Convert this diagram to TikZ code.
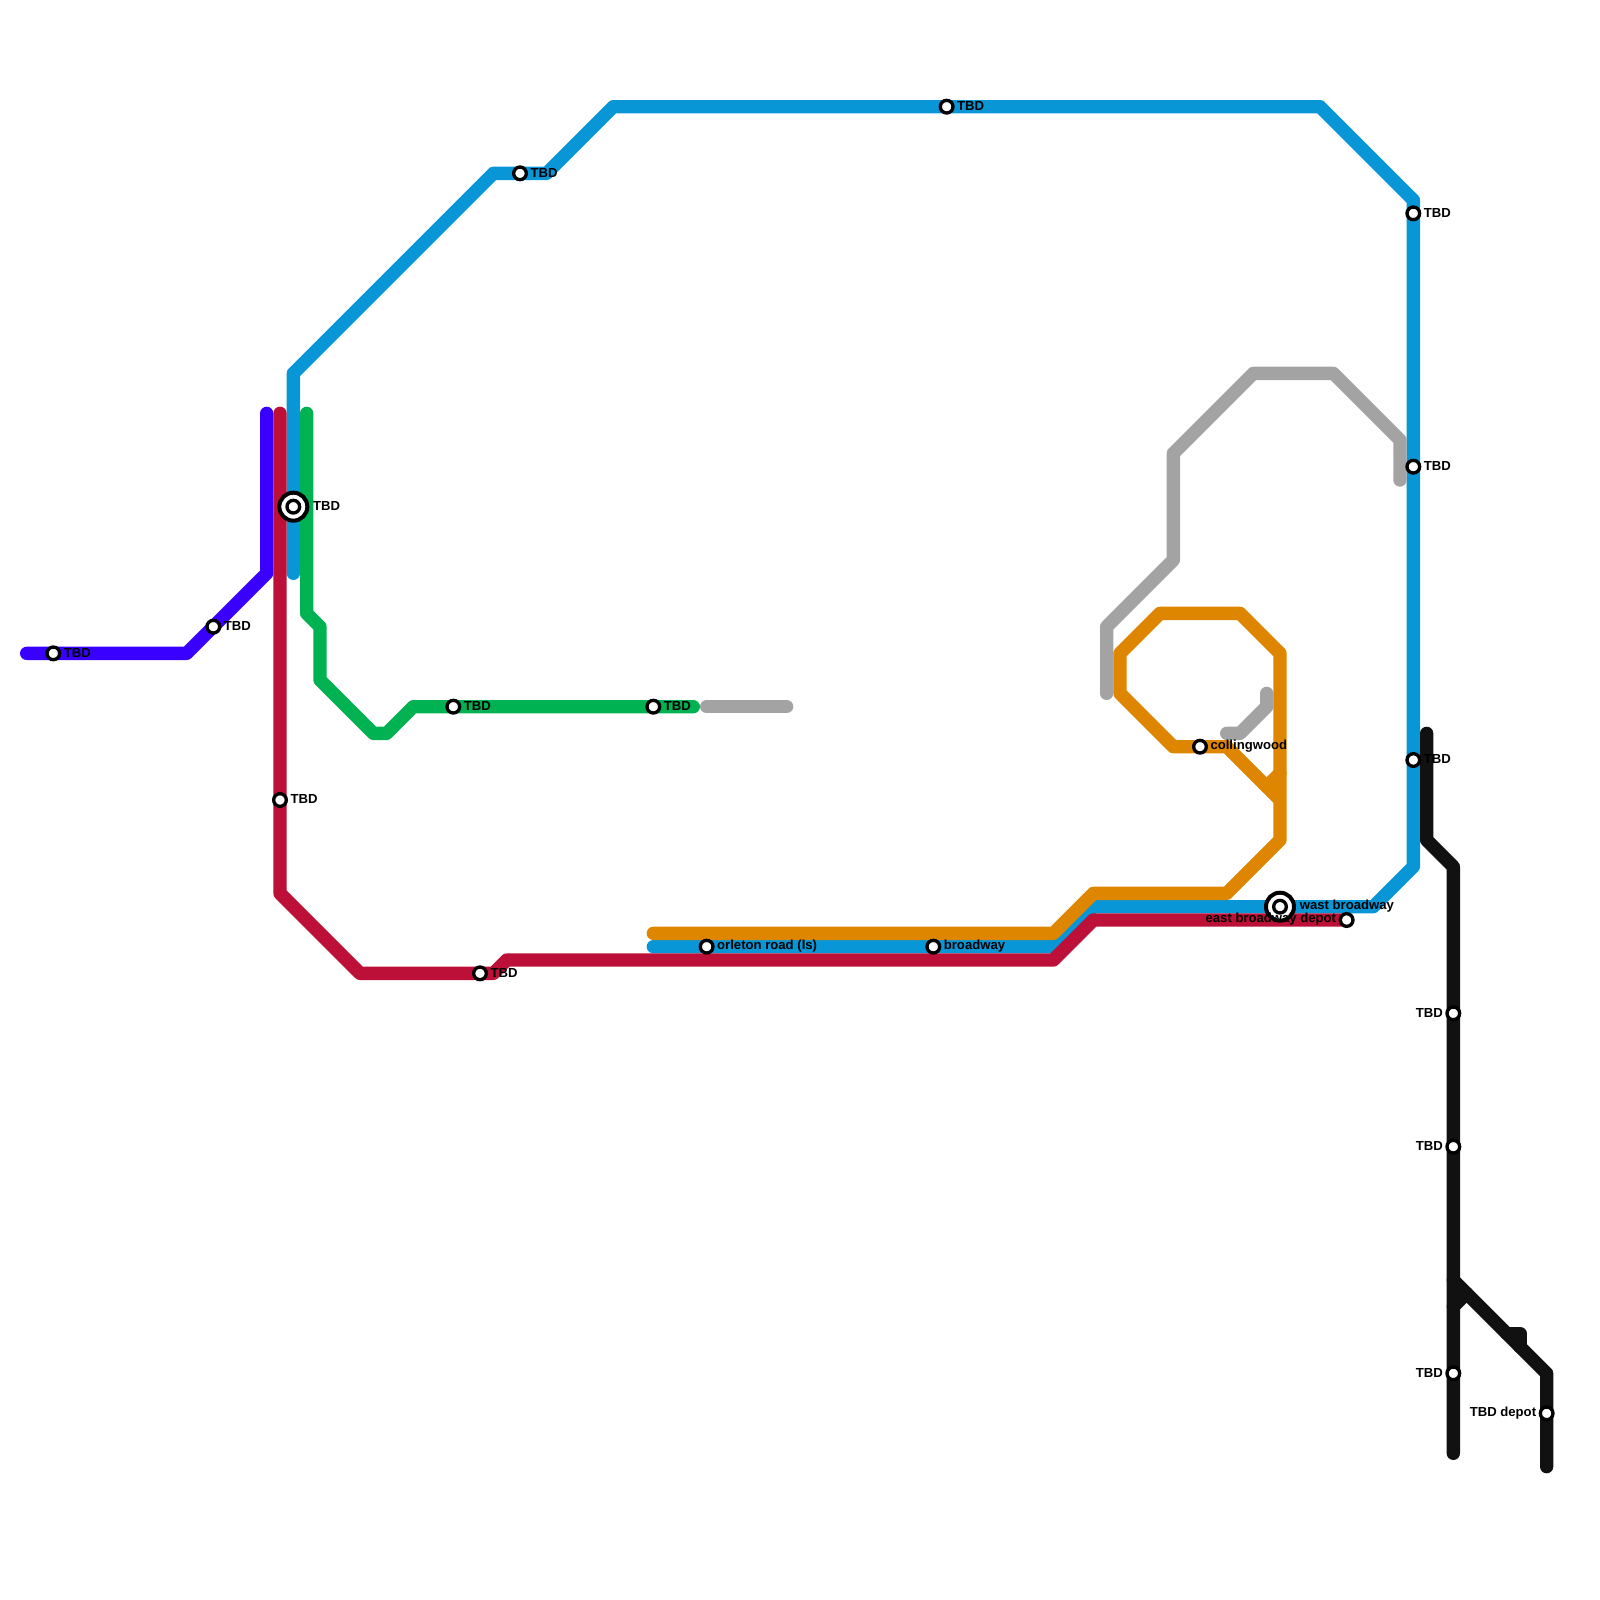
\documentclass[tikz,border=0pt]{standalone}
\usepackage{fontspec}
\setmainfont{Liberation Sans}
\usetikzlibrary{positioning}
\definecolor{MapPurple}{HTML}{3A00FF}
\definecolor{MapRed}{HTML}{BD1038}
\definecolor{MapBlue}{HTML}{0896D7}
\definecolor{MapGreen}{HTML}{00B251}
\definecolor{MapGray}{HTML}{A3A3A3}
\definecolor{MapOrange}{HTML}{DF8600}
\definecolor{MapBlack}{HTML}{111111}
\tikzset{
  route/.style={line width=1mm,line cap=round,line join=round},
  stationdot/.style={circle,draw=black,fill=white,line width=0.25mm,minimum size=0.95mm,inner sep=0pt},
  hubring/.style={circle,draw=black,fill=white,line width=0.3mm,minimum size=2.1mm,inner sep=0pt},
  stationname/.style={inner sep=0pt,yshift=0.05mm,font=\bfseries\fontsize{2.8}{3}\selectfont}
}
\begin{document}
\begin{tikzpicture}[x=1mm,y=-1mm]
\useasboundingbox (0,0) rectangle (120,120);
\draw[route,MapPurple] (2,49)--(14,49)--(20,43)--(20,31);
\draw[route,MapBlue] (22,43)--(22,28)--(37,13)--(41,13)--(46,8)--(99,8)--(106,15)--(106,65)--(103,68)--(82,68)--(79,71)--(49,71);
\draw[route,MapRed] (21,31)--(21,67)--(27,73)--(37,73)--(38,72)--(79,72)--(82,69)--(101,69);
\draw[route,MapGreen] (23,31)--(23,46)--(24,47)--(24,51)--(28,55)--(29,55)--(31,53)--(52,53);
\draw[route,MapGray] (53,53)--(59,53);
\draw[route,MapGray] (83,52)--(83,47)--(88,42)--(88,34)--(94,28)--(100,28)--(105,33)--(105,36);
\draw[route,MapGray] (92,55)--(93,55)--(95,53)--(95,52);
\draw[route,MapOrange] (49,70)--(79,70)--(82,67)--(92,67)--(96,63)--(96,49)--(93,46)--(87,46)--(84,49)--(84,52)--(88,56)--(92,56)--(96,60);
\draw[route,MapOrange] (95,59)--(96,58);
\draw[route,MapBlack] (107,55)--(107,63)--(109,65)--(109,109);
\draw[route,MapBlack] (109,96)--(116,103)--(116,110);
\draw[route,MapBlack] (109,98)--(110,97);
\draw[route,MapBlack] (113,100)--(114,100)--(114,101);
\node[stationdot] (purpleA) at (4,49) {};
\node[stationdot] (purpleB) at (16,47) {};
\node[stationdot] (redA) at (21,60) {};
\node[stationdot] (redB) at (36,73) {};
\node[stationdot] (depotE) at (101,69) {};
\node[stationdot] (blueA) at (39,13) {};
\node[stationdot] (blueB) at (71,8) {};
\node[stationdot] (blueC) at (106,16) {};
\node[stationdot] (blueD) at (106,35) {};
\node[stationdot] (blueE) at (106,57) {};
\node[stationdot] (orleton) at (53,71) {};
\node[stationdot] (broadway) at (70,71) {};
\node[stationdot] (greenA) at (34,53) {};
\node[stationdot] (greenB) at (49,53) {};
\node[stationdot] (colling) at (90,56) {};
\node[stationdot] (blackA) at (109,76) {};
\node[stationdot] (blackB) at (109,86) {};
\node[stationdot] (blackC) at (109,103) {};
\node[stationdot] (depotT) at (116,106) {};
\node[hubring] (hubWestO) at (22,38) {};
\node[stationdot] (hubWest) at (22,38) {};
\node[hubring] (hubWastO) at (96,68) {};
\node[stationdot] (hubWast) at (96,68) {};
\node[stationname,right=0.12mm of purpleA] (lpurpleA) {TBD};
\node[stationname,right=0.12mm of purpleB] (lpurpleB) {TBD};
\node[stationname,right=0.12mm of redA] (lredA) {TBD};
\node[stationname,right=0.12mm of redB] (lredB) {TBD};
\node[stationname,left=0.12mm of depotE] (ldepotE) {east broadway depot};
\node[stationname,right=0.12mm of blueA] (lblueA) {TBD};
\node[stationname,right=0.12mm of blueB] (lblueB) {TBD};
\node[stationname,right=0.12mm of blueC] (lblueC) {TBD};
\node[stationname,right=0.12mm of blueD] (lblueD) {TBD};
\node[stationname,right=0.12mm of blueE] (lblueE) {TBD};
\node[stationname,right=0.12mm of orleton] (lorleton) {orleton road (ls)};
\node[stationname,right=0.12mm of broadway] (lbroadway) {broadway};
\node[stationname,right=0.12mm of greenA] (lgreenA) {TBD};
\node[stationname,right=0.12mm of greenB] (lgreenB) {TBD};
\node[stationname,right=0.12mm of colling] (lcolling) {collingwood};
\node[stationname,left=0.12mm of blackA] (lblackA) {TBD};
\node[stationname,left=0.12mm of blackB] (lblackB) {TBD};
\node[stationname,left=0.12mm of blackC] (lblackC) {TBD};
\node[stationname,left=0.12mm of depotT] (ldepotT) {TBD depot};
\node[stationname,right=0.22mm of hubWestO] (lhubWest) {TBD};
\node[stationname,right=0.22mm of hubWastO] (lhubWast) {wast broadway};
\end{tikzpicture}
\end{document}
